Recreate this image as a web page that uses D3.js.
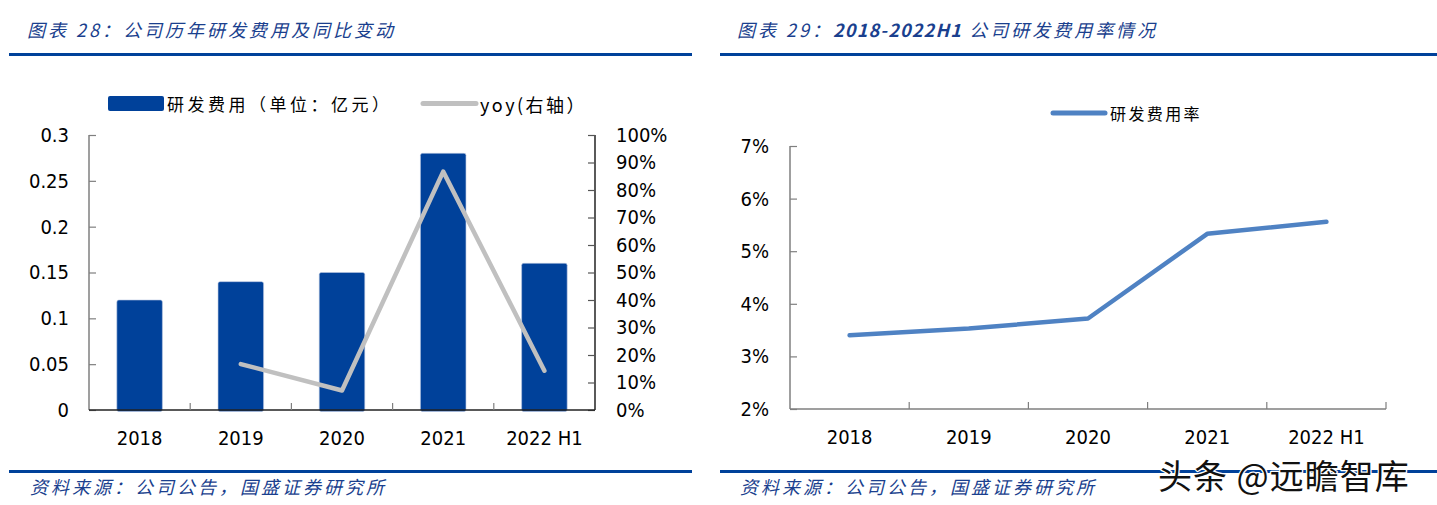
<!DOCTYPE html>
<html>
<head>
<meta charset="utf-8">
<script src="https://cdn.jsdelivr.net/npm/d3@7/dist/d3.min.js"></script>
<style>
  html, body { margin: 0; padding: 0; background: #fff; }
  svg { display: block; }
  .num { font-family: "DejaVu Sans Condensed", "DejaVu Sans", sans-serif; font-stretch: condensed; font-size: 20px; fill: #000; }
  .cjk { font-family: "Noto Sans CJK SC", sans-serif; }
</style>
</head>
<body>
<svg id="chart" width="1437" height="505"></svg>
<script>
// ---------- data ----------
const categories = ["2018", "2019", "2020", "2021", "2022 H1"];
const rdExpense = [0.12, 0.14, 0.15, 0.28, 0.16];          // 亿元
const yoy = [null, 0.167, 0.071, 0.867, 0.143];             // 右轴
const rdRate = [3.40, 3.53, 3.72, 5.33, 5.56];              // %
const leftTicks = [0, 0.05, 0.1, 0.15, 0.2, 0.25, 0.3];
const rightTicks = [0, 0.1, 0.2, 0.3, 0.4, 0.5, 0.6, 0.7, 0.8, 0.9, 1.0];
const rateTicks = [2, 3, 4, 5, 6, 7];

const title1 = ["图表 28：", "公司历年研发费用及同比变动"];
const title2 = ["图表 29：", "2018-2022H1", " 公司研发费用率情况"];
const source = "资料来源：公司公告，国盛证券研究所";
const legend1a = "研发费用（单位：亿元）";
const legend1b = "yoy(右轴）";
const legend2 = "研发费用率";
const watermark = "头条 @远瞻智库";

const svg = d3.select("#chart");
const BLUE = "#00419a";
const TITLE = "#1a3f8e";

// ---------- headers / footers ----------
function header(x0, x1, parts, tx) {
  const t = svg.append("text").attr("class", "cjk")
    .attr("x", tx).attr("y", 37)
    .attr("font-size", 18).attr("font-style", "italic")
    .attr("fill", TITLE);
  parts.forEach(p => {
    const latin = /^[0-9A-Za-z\-]+$/.test(p);
    t.append("tspan").attr("letter-spacing", latin ? 1.2 : 3)
      .attr("font-weight", latin ? 600 : 400).text(p);
  });
  svg.append("rect").attr("x", x0).attr("y", 53).attr("width", x1 - x0).attr("height", 3).attr("fill", BLUE);
  svg.append("rect").attr("x", x0).attr("y", 470).attr("width", x1 - x0).attr("height", 3).attr("fill", BLUE);
  svg.append("text").attr("class", "cjk")
    .attr("x", tx + 3).attr("y", 486).attr("dominant-baseline", "central")
    .attr("font-size", 18).attr("font-style", "italic")
    .attr("letter-spacing", 3).attr("fill", TITLE)
    .text(source);
}
header(9, 692, title1, 27);
header(720, 1437, title2, 737);

// ---------- left chart ----------
const L = { left: 89, right: 595, top: 135, bottom: 410 };
const xL = d3.scaleBand().domain(categories).range([L.left, L.right]).padding(0);
const yL = d3.scaleLinear().domain([0, 0.3]).range([L.bottom, L.top]);
const yR = d3.scaleLinear().domain([0, 1]).range([L.bottom, L.top]);
const barW = xL.bandwidth() * 0.45;

const gL = svg.append("g");
gL.selectAll("rect.bar").data(categories).enter().append("rect")
  .attr("class", "bar")
  .attr("x", d => xL(d) + (xL.bandwidth() - barW) / 2)
  .attr("y", (d, i) => yL(rdExpense[i]))
  .attr("width", barW)
  .attr("height", (d, i) => yL(0) - yL(rdExpense[i]) + 1.5)
  .attr("rx", 2)
  .attr("fill", BLUE)
  .attr("stroke", "#b9c6e0").attr("stroke-width", 0.6);

const yoyPts = categories.map((c, i) => ({ c, v: yoy[i] })).filter(d => d.v !== null);
gL.append("path")
  .datum(yoyPts)
  .attr("fill", "none").attr("stroke", "#c0c0c0").attr("stroke-width", 4.5)
  .attr("stroke-linecap", "round").attr("stroke-linejoin", "round")
  .attr("d", d3.line().x(d => xL(d.c) + xL.bandwidth() / 2).y(d => yR(d.v)));

// left y axis
const axL = gL.append("g").attr("transform", `translate(${L.left},0)`)
  .call(d3.axisLeft(yL).tickValues(leftTicks).tickSize(-7).tickPadding(20).tickFormat(d => String(d)));
axL.select(".domain").attr("stroke", "#7f7f7f").attr("stroke-width", 1.5).attr("d", `M0,${L.top}V${L.bottom}`);
axL.selectAll(".tick line").attr("stroke", "#7f7f7f").attr("stroke-width", 1.2);
axL.selectAll(".tick text").attr("class", "num").attr("font-size", null).attr("font-family", null);

// right y axis
const axR = gL.append("g").attr("transform", `translate(${L.right},0)`)
  .call(d3.axisRight(yR).tickValues(rightTicks).tickSize(-7).tickPadding(21).tickFormat(d3.format(".0%")));
axR.select(".domain").attr("stroke", "#000").attr("stroke-width", 1.3).attr("d", `M0,${L.top}V${L.bottom}`);
axR.selectAll(".tick line").attr("stroke", "#555").attr("stroke-width", 1.2);
axR.selectAll(".tick text").attr("class", "num").attr("font-size", null).attr("font-family", null);

// bottom axis
const axB = gL.append("g").attr("transform", `translate(0,${L.bottom})`)
  .call(d3.axisBottom(xL).tickSize(0).tickPadding(21));
axB.select(".domain").attr("stroke", "#222").attr("stroke-width", 1.5).attr("d", `M${L.left},0H${L.right}`);
axB.selectAll(".tick text").attr("class", "num").attr("font-size", null).attr("font-family", null);
gL.selectAll("line.bt").data(categories.slice(1)).enter().append("line")
  .attr("class", "bt")
  .attr("x1", d => xL(d)).attr("x2", d => xL(d))
  .attr("y1", L.bottom).attr("y2", L.bottom - 7)
  .attr("stroke", "#7f7f7f").attr("stroke-width", 1.2);

// left legend
svg.append("rect").attr("x", 108).attr("y", 96).attr("width", 56).attr("height", 15).attr("rx", 2).attr("fill", BLUE);
svg.append("text").attr("class", "cjk").attr("x", 167).attr("y", 103.5)
  .attr("dominant-baseline", "central").attr("font-size", 17).attr("letter-spacing", 3.5).attr("fill", "#000")
  .text(legend1a);
svg.append("line").attr("x1", 423).attr("x2", 476).attr("y1", 103.5).attr("y2", 103.5)
  .attr("stroke", "#c0c0c0").attr("stroke-width", 5).attr("stroke-linecap", "round");
svg.append("text").attr("class", "cjk").attr("x", 480).attr("y", 103.5)
  .attr("dominant-baseline", "central").attr("font-size", 18).attr("letter-spacing", 2.5).attr("fill", "#000")
  .text(legend1b);

// ---------- right chart ----------
const R = { left: 790, right: 1386, top: 146, bottom: 409 };
const xR2 = d3.scaleBand().domain(categories).range([R.left, R.right]).padding(0);
const yR2 = d3.scaleLinear().domain([2, 7]).range([R.bottom, R.top]);
const gR = svg.append("g");

const ayR = gR.append("g").attr("transform", `translate(${R.left},0)`)
  .call(d3.axisLeft(yR2).tickValues(rateTicks).tickSize(-7).tickPadding(21).tickFormat(d => d + "%"));
ayR.select(".domain").attr("stroke", "#7f7f7f").attr("stroke-width", 1.5).attr("d", `M0,${R.top}V${R.bottom}`);
ayR.selectAll(".tick line").attr("stroke", "#7f7f7f").attr("stroke-width", 1.2);
ayR.selectAll(".tick text").attr("class", "num").attr("font-size", null).attr("font-family", null);

const axR2 = gR.append("g").attr("transform", `translate(0,${R.bottom})`)
  .call(d3.axisBottom(xR2).tickSize(0).tickPadding(21));
axR2.select(".domain").attr("stroke", "#7f7f7f").attr("stroke-width", 1.5).attr("d", `M${R.left},0H${R.right}`);
axR2.selectAll(".tick text").attr("class", "num").attr("font-size", null).attr("font-family", null);
gR.selectAll("line.bt").data(categories.slice(1).concat(["__end"])).enter().append("line")
  .attr("class", "bt")
  .attr("x1", d => d === "__end" ? R.right : xR2(d)).attr("x2", d => d === "__end" ? R.right : xR2(d))
  .attr("y1", R.bottom).attr("y2", R.bottom - 7)
  .attr("stroke", "#7f7f7f").attr("stroke-width", 1.2);

gR.append("path")
  .datum(categories.map((c, i) => ({ c, v: rdRate[i] })))
  .attr("fill", "none").attr("stroke", "#4f82c3").attr("stroke-width", 4.5)
  .attr("stroke-linecap", "round").attr("stroke-linejoin", "round")
  .attr("d", d3.line().x(d => xR2(d.c) + xR2.bandwidth() / 2).y(d => yR2(d.v)));

// right legend
svg.append("line").attr("x1", 1053).attr("x2", 1105).attr("y1", 113).attr("y2", 113)
  .attr("stroke", "#4f82c3").attr("stroke-width", 5).attr("stroke-linecap", "round");
svg.append("text").attr("class", "cjk").attr("x", 1110).attr("y", 113)
  .attr("dominant-baseline", "central").attr("font-size", 16).attr("letter-spacing", 2.4).attr("fill", "#000")
  .text(legend2);

// ---------- watermark ----------
svg.append("text").attr("class", "cjk").attr("x", 1158).attr("y", 474)
  .attr("dominant-baseline", "central").attr("font-size", 34).attr("letter-spacing", 1)
  .attr("fill", "#111").attr("stroke", "#fff").attr("stroke-width", 2.5)
  .attr("paint-order", "stroke").attr("stroke-linejoin", "round")
  .text(watermark);
</script>
</body>
</html>
